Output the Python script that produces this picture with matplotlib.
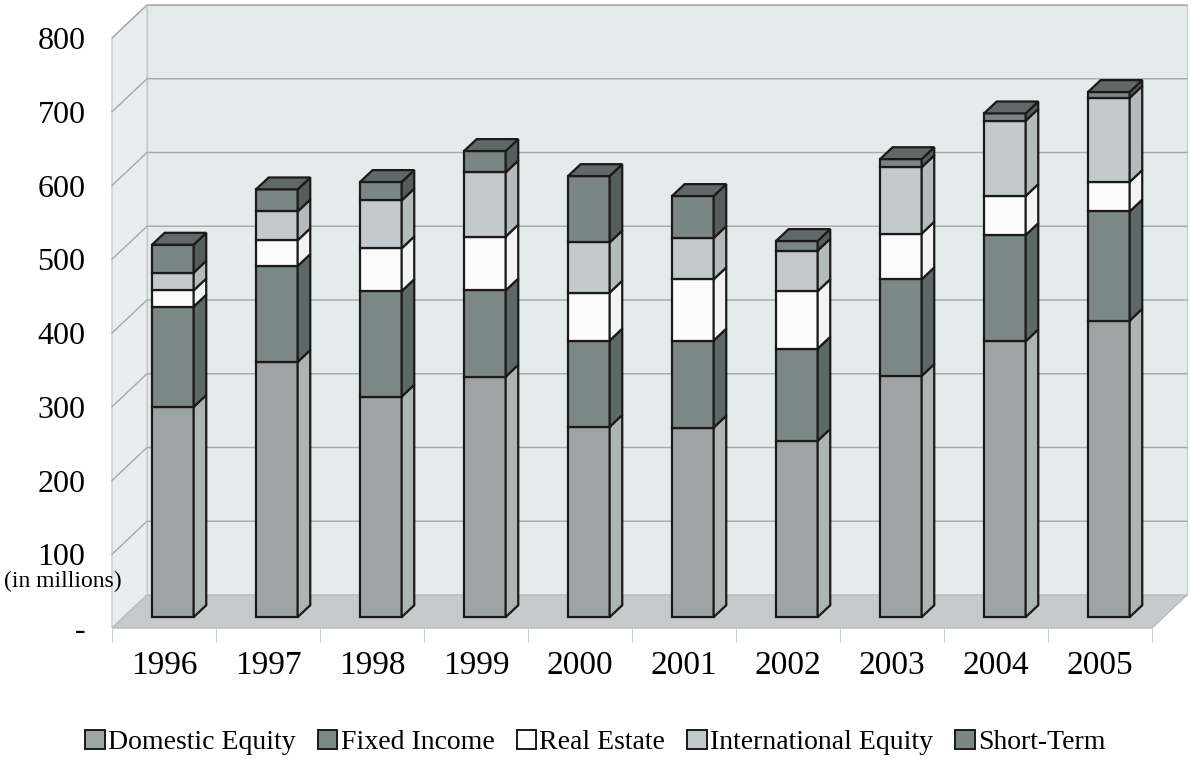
import matplotlib.pyplot as plt
from matplotlib.patches import Polygon, Patch
import numpy as np

plt.rcParams['font.family'] = ['Liberation Serif', 'DejaVu Serif']

years = ['1996', '1997', '1998', '1999', '2000', '2001', '2002', '2003', '2004', '2005']
domestic = [285, 346, 299, 326, 258, 257, 239, 327, 374, 402]
fixed = [136, 130, 143, 117, 117, 118, 125, 131, 144, 148]
real_estate = [22, 35, 58, 73, 65, 83, 78, 62, 53, 40]
intl = [24, 39, 65, 87, 68, 56, 55, 90, 102, 114]
short = [38, 30, 25, 29, 90, 57, 13, 11, 10, 8]

names = ['Domestic Equity', 'Fixed Income', 'Real Estate', 'International Equity', 'Short-Term']
series = [domestic, fixed, real_estate, intl, short]
front_col = ['#9ca5a3', '#7b8885', '#fbfbfb', '#c2cacb', '#798683']
side_col = ['#adb5b3', '#5d6966', '#f2f4f4', '#b3bbbb', '#545e5c']
top_col = '#5f6967'

yticks = [0, 100, 200, 300, 400, 500, 600, 700, 800]
ylabels = ['-', '100', '200', '300', '400', '500', '600', '700', '800']

fig = plt.figure(figsize=(11.91, 7.61), dpi=100)
ax = fig.add_axes([112 / 1191, 133 / 761, 1040 / 1191, 590 / 761])
ax.set_xlim(-0.5, 9.5)
ax.set_ylim(0, 800)

# depth of the box (in data units) and bar depth
DX, DY = 35 / 104, 33 / 0.7375
f0, fd = 0.33, 0.36
x = np.arange(len(years))

wall = '#e4ebeb'
grid = '#a3a8a8'
# back wall, left wall, floor
ax.add_patch(Polygon([(-0.5 + DX, DY), (9.5 + DX, DY), (9.5 + DX, 800 + DY), (-0.5 + DX, 800 + DY)],
                     closed=True, facecolor=wall, edgecolor='#c8cccc', lw=1, clip_on=False, zorder=0))
ax.add_patch(Polygon([(-0.5, 0), (-0.5 + DX, DY), (-0.5 + DX, 800 + DY), (-0.5, 800)],
                     closed=True, facecolor='#e8eeee', edgecolor='#c8cccc', lw=1, clip_on=False, zorder=0))
for v in yticks[1:]:
    ax.plot([-0.5, -0.5 + DX, 9.5 + DX], [v, v + DY, v + DY], color=grid, lw=1, clip_on=False, zorder=1)
ax.add_patch(Polygon([(-0.5, 0), (9.5, 0), (9.5 + DX, DY), (-0.5 + DX, DY)],
                     closed=True, facecolor='#c6caca', edgecolor='#b8bcbc', lw=1, clip_on=False, zorder=1))

w = 0.4
xl = x - w / 2 + 0.085
y0 = f0 * DY
bx, by = fd * DX, fd * DY
bottom = np.zeros(len(years))
for s, vals in enumerate(series):
    vals = np.array(vals, dtype=float)
    ax.bar(xl, vals, width=w, bottom=bottom + y0, align='edge', color=front_col[s],
           edgecolor='#1a1a1a', lw=1.6, zorder=3)
    for i in range(len(years)):
        b, t = bottom[i] + y0, bottom[i] + vals[i] + y0
        r = xl[i] + w
        ax.add_patch(Polygon([(r, b), (r + bx, b + by), (r + bx, t + by), (r, t)], closed=True,
                             facecolor=side_col[s], edgecolor='#1a1a1a', lw=1.6, zorder=3))
    bottom += vals

for i in range(len(years)):
    t = bottom[i] + y0
    ax.add_patch(Polygon([(xl[i], t), (xl[i] + w, t), (xl[i] + w + bx, t + by), (xl[i] + bx, t + by)],
                         closed=True, facecolor=top_col, edgecolor='#1a1a1a', lw=1.6, zorder=3))

for sp in ax.spines.values():
    sp.set_visible(False)
ax.axhline(0, color='#c0c4c4', lw=1.2, zorder=2)
ax.set_xticks(x)
ax.set_xticklabels(years, fontsize=24)
ax.set_xticks(np.arange(-0.5, 10, 1), minor=True)
ax.tick_params(axis='x', which='major', length=0, pad=16)
ax.tick_params(axis='x', which='minor', length=10, color='#c0c4c4')
ax.set_yticks(yticks)
ax.set_yticklabels(ylabels, fontsize=23)
ax.tick_params(axis='y', length=0, pad=19)
ax.text(-0.97, 100 - 37, '(in millions)', ha='center', va='center', fontsize=17)

handles = [Patch(facecolor=front_col[s], edgecolor='#1a1a1a', lw=1.4) for s in range(5)]
fig.legend(handles, names, loc='lower center', bbox_to_anchor=(0.5, -0.025), ncol=5, frameon=False,
           fontsize=20, handlelength=0.7, handleheight=0.7, handletextpad=0.12, columnspacing=0.8)

fig.savefig('out.png', dpi=100)
